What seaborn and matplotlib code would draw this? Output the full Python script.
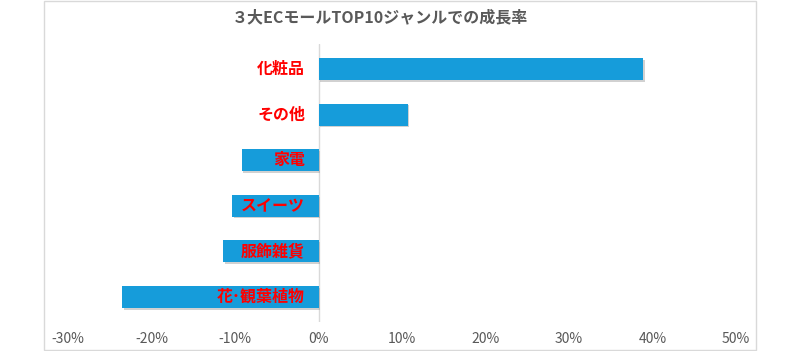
import matplotlib
matplotlib.use("Agg")
import matplotlib.pyplot as plt
import seaborn as sns
import pandas as pd
from matplotlib.patches import Rectangle
import matplotlib.patheffects as pe

categories = ["化粧品", "その他", "家電", "スイーツ", "服飾雑貨", "花･観葉植物"]
growth = [38.9, 10.7, -9.2, -10.3, -11.4, -23.5]
tick_values = [-30, -20, -10, 0, 10, 20, 30, 40, 50]
tick_labels = ["-30%", "-20%", "-10%", "0%", "10%", "20%", "30%", "40%", "50%"]
title = "３大ECモールTOP10ジャンルでの成長率"

sns.set_theme(style="white")
plt.rcParams['font.family'] = ['Noto Sans CJK JP', 'DejaVu Sans']

df = pd.DataFrame({"cat": categories, "val": growth})

fig = plt.figure(figsize=(8, 3.51), dpi=100)
W, H = 800, 351
ax = fig.add_axes([68 / W, 1 - 322 / H, (736 - 68) / W, (322 - 44) / H])

sns.barplot(data=df, x="val", y="cat", orient="h", color="#169cda",
            saturation=1, width=0.48, ax=ax, zorder=3)
for p in ax.patches:
    p.set_path_effects([pe.SimplePatchShadow(offset=(1.0, -1.2), shadow_rgbFace="#999999", alpha=0.45), pe.Normal()])
    p.set_edgecolor("none")

ax.set_xlim(-30, 50)
ax.set_ylim(5.55, -0.55)
ax.set_xticks(tick_values)
ax.set_xticklabels(tick_labels, fontsize=10, color="#595959")
ax.set_yticks([])
ax.set_xlabel("")
ax.set_ylabel("")
ax.tick_params(axis="x", length=0, pad=7)
for s in ax.spines.values():
    s.set_visible(False)
ax.axvline(0, color="#d9d9d9", lw=1, zorder=2)

for i, c in enumerate(categories):
    ax.text(-1.6, i, c, ha="right", va="center", color="#ff0000",
            fontsize=11.5, fontweight="bold", zorder=5)

fig.text(380 / W, 1 - 17 / H, title, ha="center", va="center",
         fontsize=11.5, fontweight="bold", color="#595959")

fig.patches.append(Rectangle((44 / W, 1 - 350 / H), (756 - 44) / W, (350 - 1) / H,
                             transform=fig.transFigure, fill=False,
                             edgecolor="#d9d9d9", lw=1))

fig.savefig("out.png", dpi=100)
